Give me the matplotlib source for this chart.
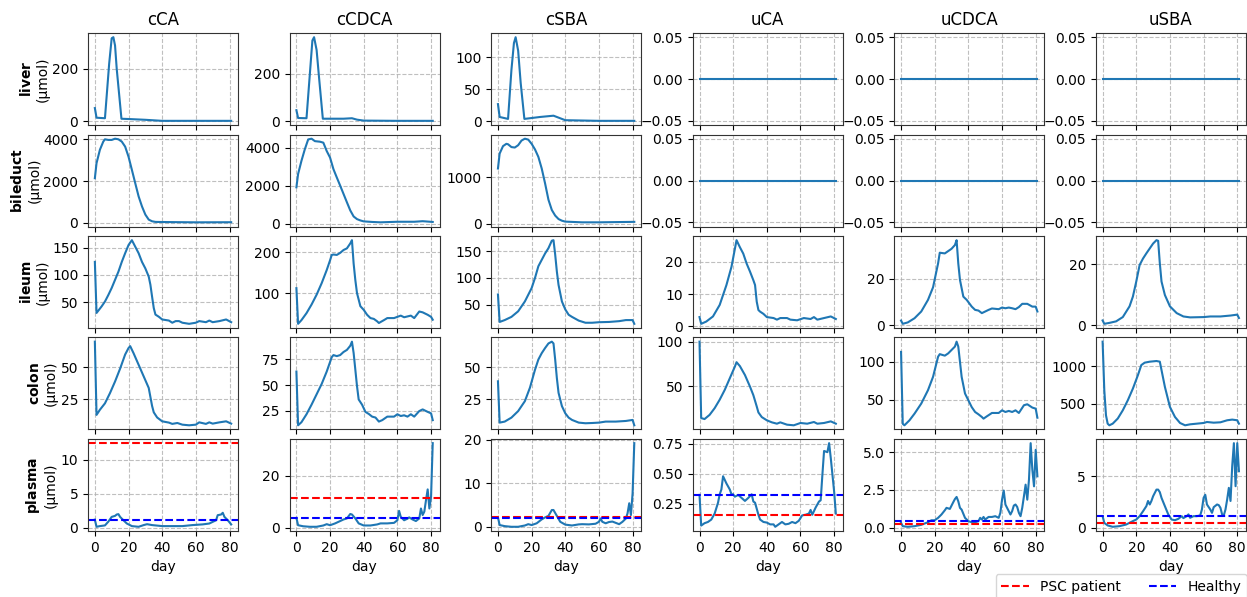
"""
Bile acid amounts per compartment over time, with plasma reference levels.
"""
import matplotlib
matplotlib.use('Agg')
from matplotlib import pyplot as plt
from matplotlib.lines import Line2D

compartments = ['liver', 'bileduct', 'ileum', 'colon', 'plasma']
acids = ['cCA', 'cCDCA', 'cSBA', 'uCA', 'uCDCA', 'uSBA']

# unconjugated acids are zero in liver and bile duct
zero_day = [0, 81]
zero_val = [0.0, 0.0]

# ---- liver
liver_cCA_day = [0, 1, 6, 8.5, 10, 11, 12, 13, 15.8, 20, 30, 40, 60, 81]
liver_cCA = [50, 13, 11, 220, 318, 322, 290, 200, 9, 8, 5, 1, 1, 1]
liver_cCDCA_day = [0, 1, 6, 8, 9.5, 10.5, 12, 13.5, 15.7, 20, 28, 33, 36, 40, 60, 81]
liver_cCDCA = [46, 13, 12, 200, 340, 354, 300, 180, 10, 10, 10, 12, 6, 2, 1, 1]
liver_cSBA_day = [0, 1, 6, 8, 9.5, 10.5, 12, 13.5, 15.7, 25, 33, 37, 40, 60, 81]
liver_cSBA = [27, 7, 4, 80, 122, 131, 110, 60, 4, 7, 9, 5, 2, 1, 1]

# ---- bile duct
bile_cCA_day = [0, 1, 3, 5, 6, 8, 10, 12, 14, 16, 18, 20, 22, 24, 26, 28, 30,
                32, 34, 36, 40, 60, 81]
bile_cCA = [2140, 2860, 3500, 3890, 4000, 3970, 3970, 4030, 4000, 3890, 3650,
            3170, 2540, 1900, 1270, 790, 400, 160, 80, 50, 45, 30, 35]
bile_cCDCA_day = [0, 1, 3, 5, 7, 9, 11, 14, 16, 18, 20, 22, 24, 26, 28, 30, 32,
                  34, 36, 38, 40, 45, 50, 60, 70, 75, 81]
bile_cCDCA = [1920, 2620, 3320, 3930, 4450, 4490, 4360, 4330, 4280, 3840, 3490,
              2880, 2440, 2010, 1570, 1130, 700, 380, 240, 170, 120, 90, 70,
              100, 100, 130, 90]
bile_cSBA_day = [0, 1, 3, 5, 6, 8, 10, 12, 14, 16, 18, 20, 22, 24, 26, 28, 30,
                 32, 34, 36, 38, 40, 50, 60, 70, 81]
bile_cSBA = [1190, 1510, 1670, 1720, 1710, 1650, 1640, 1690, 1790, 1830, 1810,
             1720, 1600, 1440, 1190, 870, 520, 300, 180, 105, 70, 50, 35, 35,
             40, 45]

# ---- ileum
ileum_cCA_day = [0, 1, 4, 6, 8, 10, 12, 14, 16, 18, 20, 22, 24, 26, 28, 30, 32,
                 33, 34, 35, 36, 38, 40, 44, 46, 48, 50, 52, 56, 60, 62, 66, 68,
                 70, 74, 78, 81]
ileum_cCA = [124, 30, 42, 51, 63, 76, 91, 106, 124, 140, 155, 164, 152, 140,
             124, 112, 97, 82, 60, 39, 27, 23, 18, 16, 12, 15, 15, 12, 10, 12,
             15, 13, 16, 13, 15, 18, 13]
ileum_cCDCA_day = [0, 1, 3, 6, 9, 12, 15, 18, 20, 21, 22, 24, 26, 28, 30, 32,
                   33, 34, 35, 36, 38, 40, 42, 44, 46, 48, 49, 52, 54, 58, 60,
                   62, 64, 66, 68, 70, 73, 75, 78, 80, 81]
ileum_cCDCA = [113, 26, 35, 52, 73, 97, 125, 157, 181, 194, 195, 194, 199, 206,
               210, 222, 230, 173, 133, 101, 69, 60, 48, 40, 38, 32, 28, 35, 40,
               40, 43, 46, 42, 44, 46, 40, 56, 54, 48, 43, 36]
ileum_cSBA_day = [0, 1, 4, 8, 12, 16, 20, 22, 24, 26, 28, 30, 32, 33, 34, 35,
                  36, 38, 40, 42, 44, 48, 52, 56, 60, 66, 72, 76, 80, 81]
ileum_cSBA = [69, 17.5, 21, 27, 37.5, 56, 81, 100, 122, 134, 146, 156, 170,
              171, 144, 112, 87, 56, 41, 31, 27, 20, 16, 16, 17, 17.5, 19, 21,
              21, 14]
ileum_uCA_day = [0, 1, 4, 8, 12, 16, 19, 22, 24, 26, 28, 30, 32, 33, 34, 35,
                 36, 38, 40, 44, 46, 48, 52, 54, 58, 62, 66, 68, 70, 74, 78, 81]
ileum_uCA = [2.8, 0.7, 1.4, 3, 6.6, 12.8, 18.5, 26.8, 24.6, 22.6, 19.5, 17,
             14.3, 12.8, 7.6, 5, 4.5, 3.8, 2.8, 2.5, 2, 2.5, 2.5, 2, 1.8, 2.5,
             2.2, 2.8, 2, 2.5, 3, 2.2]
ileum_uCDCA_day = [0, 1, 4, 8, 12, 16, 19, 22, 23, 26, 28, 30, 32, 33, 34, 35,
                   37, 39, 42, 44, 46, 48, 50, 52, 54, 58, 60, 62, 64, 66, 68,
                   70, 72, 75, 78, 80, 81]
ileum_uCDCA = [2.1, 0.7, 1.3, 3.1, 6, 11, 16.4, 26.7, 31.3, 31, 32, 33, 34.6,
               36.7, 26.7, 19.6, 12.4, 11, 8.1, 6.7, 6.4, 5.3, 6, 6.7, 7.3, 7,
               7.7, 7.4, 7.7, 7.4, 7, 7.9, 9.3, 9.3, 8.1, 8.1, 6]
ileum_uSBA_day = [0, 1, 4, 8, 12, 16, 18, 20, 22, 24, 26, 28, 30, 32, 33, 34,
                  35, 37, 40, 44, 48, 52, 60, 64, 70, 76, 80, 81]
ileum_uSBA = [1.6, 0.5, 0.8, 1.3, 2.7, 6.2, 9.4, 14.3, 19.7, 21.8, 23.5, 25.1,
              26.7, 27.8, 27.6, 20.2, 14.3, 9.9, 6.2, 4, 2.9, 2.6, 2.7, 2.9,
              2.9, 3.2, 3.5, 2.4]

# ---- colon
colon_cCA_day = [0, 1, 3, 6, 9, 12, 15, 18, 20, 21, 23, 26, 29, 32, 33, 34, 35,
                 37, 40, 44, 46, 49, 52, 56, 60, 62, 66, 68, 70, 74, 78, 81]
colon_cCA = [70, 13, 17, 22, 30, 39, 49, 60, 65, 66.5, 61, 52, 43, 34, 27, 20,
             15, 11, 8, 7, 6, 6.7, 5.4, 4.9, 5.4, 7.2, 6, 7.2, 6.2, 7.2, 8, 6.2]
colon_cCDCA_day = [0, 1, 3, 6, 9, 12, 15, 18, 21, 22, 24, 26, 28, 30, 32, 33,
                   34, 35, 36, 37, 39, 41, 43, 45, 47, 49, 51, 54, 58, 60, 62,
                   64, 66, 68, 70, 73, 75, 78, 80, 81]
colon_cCDCA = [63, 11, 14, 21.7, 31, 41, 51, 63, 77, 79, 78, 79, 82, 84, 88, 92,
               81, 65, 49, 36, 31, 24, 22, 19.4, 18.5, 14.6, 16, 19.4, 19.4,
               21.7, 20, 20.7, 19.4, 21.7, 19.4, 24.8, 26.4, 24, 22.6, 16]
colon_cSBA_day = [0, 1, 4, 8, 12, 16, 19, 22, 24, 26, 28, 30, 32, 33, 34, 35,
                  36, 38, 40, 42, 44, 48, 52, 56, 60, 64, 70, 76, 80, 81]
colon_cSBA = [39, 6.7, 7.5, 10.6, 15.7, 23.5, 34, 48, 56, 61, 65, 68.6, 70,
              68.6, 56, 41.5, 30, 19.6, 14, 10.6, 8.8, 6.7, 6.2, 6.4, 6.7, 7.5,
              7.5, 8, 8.8, 4.6]
colon_uCA_day = [0, 1, 3, 6, 9, 12, 15, 18, 21, 22, 24, 27, 30, 32, 34, 35, 37,
                 40, 43, 46, 48, 52, 56, 60, 64, 68, 70, 74, 78, 81]
colon_uCA = [100, 14.4, 13.3, 18, 25.5, 35, 46, 59, 72, 77, 72.6, 62.6, 49.6,
             40, 27.4, 20.7, 15.5, 11.9, 9.6, 8.1, 9.6, 7, 6.3, 8.9, 8.1, 10,
             8.1, 8.9, 10.7, 8.1]
colon_uCDCA_day = [0, 1, 2, 5, 8, 12, 16, 19, 22, 23, 26, 28, 30, 32, 33, 34,
                   35, 36, 38, 40, 42, 44, 46, 48, 49, 51, 54, 58, 60, 62, 64,
                   66, 68, 70, 73, 75, 78, 80, 81]
colon_uCDCA = [113, 18, 16, 22.6, 31.4, 44.7, 62.4, 80, 106.6, 110, 108, 111,
               115.5, 120, 126.5, 120, 100, 80, 58, 49, 40, 33.6, 30.5, 27,
               24.8, 27.9, 32.3, 32.3, 35.8, 33.6, 35, 33.6, 35.8, 32.3, 42.5,
               43.8, 39.4, 38, 26]
colon_uSBA_day = [0, 1, 2, 3, 4, 6, 9, 12, 15, 18, 21, 23, 25, 28, 32, 34, 35,
                  37, 40, 43, 46, 49, 52, 56, 60, 62, 66, 70, 74, 77, 80, 81]
colon_uSBA = [1325, 680, 344, 232, 210, 232, 300, 410, 545, 700, 880, 1013,
              1045, 1058, 1067, 1058, 946, 723, 455, 321, 241, 210, 223, 232,
              241, 254, 245, 250, 277, 286, 277, 232]

# ---- plasma
plasma_cCA_day = [0, 1, 3, 6, 8, 10, 12, 13, 14, 15, 17, 19, 22, 26, 29, 31,
                  34, 40, 46, 52, 58, 64, 68, 70, 72, 73, 75, 76, 77, 79, 81]
plasma_cCA = [1.2, 0.15, 0.25, 0.35, 0.9, 1.6, 1.75, 1.95, 2.0, 1.6, 1.1, 0.63,
              0.25, 0.15, 0.4, 0.53, 0.4, 0.25, 0.25, 0.25, 0.4, 0.5, 0.63,
              0.87, 1.1, 1.85, 1.95, 2.2, 1.6, 1.1, 0.5]
plasma_cCDCA_day = [0, 1, 4, 8, 12, 16, 18, 20, 23, 26, 28, 30, 32, 33, 35, 37,
                    40, 44, 48, 50, 54, 58, 60, 61, 62, 64, 66, 67, 69, 71, 73,
                    74, 75, 76, 77, 78, 79, 80, 81]
plasma_cCDCA = [3.8, 1.0, 0.6, 0.4, 0.4, 0.9, 1.4, 1.0, 1.7, 2.6, 3.2, 3.6, 5.3,
                5.1, 3.6, 1.7, 0.9, 0.9, 1.3, 1.7, 1.7, 1.9, 2.9, 6.5, 4.2, 2.9,
                3.5, 4.0, 3.2, 2.6, 3.6, 7.4, 4.9, 6.2, 10.6, 14.7, 7.4, 11.9,
                32.4]
plasma_cSBA_day = [0, 1, 4, 8, 12, 16, 18, 20, 23, 26, 28, 30, 32, 33, 35, 37,
                   40, 44, 48, 50, 54, 58, 60, 61, 62, 64, 66, 68, 70, 72, 74,
                   76, 77, 78, 79, 80, 81]
plasma_cSBA = [2.15, 0.4, 0.15, 0.0, 0.0, 0.3, 0.6, 0.4, 0.8, 1.7, 2.15, 2.5,
               3.85, 3.85, 2.5, 1.15, 0.5, 0.3, 0.55, 0.6, 0.55, 0.7, 1.15, 1.9,
               1.15, 0.8, 1.1, 1.2, 0.9, 0.6, 1.15, 1.9, 3.1, 5.4, 2.7, 7.7,
               19.2]
plasma_uCA_day = [0, 1, 3, 5, 7, 9, 11, 12, 13, 14, 16, 18, 19, 20, 21, 23, 25,
                  27, 29, 31, 32, 33, 34, 35, 36, 38, 40, 42, 44, 45, 47, 49,
                  51, 53, 55, 57, 59, 61, 63, 65, 66, 67, 69, 71, 72, 73, 74,
                  76, 77, 78, 80, 81]
plasma_uCA = [0.325, 0.07, 0.09, 0.10, 0.12, 0.17, 0.26, 0.33, 0.37, 0.48, 0.42,
              0.37, 0.33, 0.33, 0.31, 0.325, 0.30, 0.275, 0.30, 0.33, 0.27,
              0.26, 0.21, 0.16, 0.12, 0.10, 0.095, 0.08, 0.08, 0.06, 0.08, 0.10,
              0.08, 0.085, 0.10, 0.09, 0.11, 0.155, 0.16, 0.17, 0.20, 0.16,
              0.22, 0.27, 0.28, 0.49, 0.69, 0.68, 0.755, 0.63, 0.35, 0.17]
plasma_uCDCA_day = [0, 1, 4, 8, 12, 16, 18, 20, 22, 24, 26, 27, 29, 30, 31, 32,
                    33, 34, 35, 36, 38, 40, 42, 44, 46, 47, 48, 49, 50, 52, 54,
                    56, 58, 59, 60, 61, 62, 64, 65, 66, 67, 68, 69, 70, 71, 72,
                    73, 74, 75, 76, 77, 78, 79, 80, 81]
plasma_uCDCA = [0.33, 0.11, 0.07, 0.11, 0.2, 0.37, 0.5, 0.5, 0.66, 0.88, 1.16,
                1.32, 1.25, 1.47, 1.69, 1.9, 2.04, 1.75, 1.32, 1.2, 0.66, 0.44,
                0.37, 0.37, 0.44, 0.66, 0.55, 0.72, 0.55, 0.72, 0.72, 0.77,
                0.66, 0.99, 1.86, 2.46, 1.54, 1.1, 0.88, 1.1, 1.47, 1.54, 1.38,
                0.99, 0.77, 1.32, 2.08, 2.85, 1.86, 3.18, 5.59, 3.84, 2.74,
                5.15, 3.4]
plasma_uSBA_day = [0, 1, 3, 6, 10, 14, 18, 20, 22, 24, 26, 27, 28, 29, 30, 32,
                   33, 34, 35, 37, 39, 41, 43, 45, 47, 48, 50, 51, 52, 54, 56,
                   58, 59, 60, 61, 62, 64, 65, 66, 68, 69, 70, 71, 72, 73, 74,
                   75, 76, 77, 78, 79, 80, 81]
plasma_uSBA = [1.13, 0.48, 0.23, 0.1, 0.16, 0.32, 0.65, 0.8, 1.13, 1.6, 2.1,
               2.6, 2.26, 2.6, 3.06, 3.7, 3.7, 3.45, 2.9, 2.1, 1.3, 0.8, 0.74,
               0.87, 1.13, 0.94, 1.13, 1.3, 0.97, 1.13, 1.13, 1.2, 1.77, 2.9,
               3.2, 2.26, 1.77, 1.45, 2.0, 2.26, 2.2, 1.94, 1.3, 1.2, 1.77, 2.74,
               3.87, 2.6, 5.97, 8.2, 4.03, 8.2, 5.48]

# plasma reference levels (cCA, cCDCA, cSBA, uCA, uCDCA, uSBA)
psc_level = [12.4, 11.5, 2.3, 0.16, 0.285, 0.42]
healthy_level = [1.1, 3.7, 2.1, 0.325, 0.42, 1.13]

series = {
    'liver': [(liver_cCA_day, liver_cCA), (liver_cCDCA_day, liver_cCDCA),
              (liver_cSBA_day, liver_cSBA), (zero_day, zero_val),
              (zero_day, zero_val), (zero_day, zero_val)],
    'bileduct': [(bile_cCA_day, bile_cCA), (bile_cCDCA_day, bile_cCDCA),
                 (bile_cSBA_day, bile_cSBA), (zero_day, zero_val),
                 (zero_day, zero_val), (zero_day, zero_val)],
    'ileum': [(ileum_cCA_day, ileum_cCA), (ileum_cCDCA_day, ileum_cCDCA),
              (ileum_cSBA_day, ileum_cSBA), (ileum_uCA_day, ileum_uCA),
              (ileum_uCDCA_day, ileum_uCDCA), (ileum_uSBA_day, ileum_uSBA)],
    'colon': [(colon_cCA_day, colon_cCA), (colon_cCDCA_day, colon_cCDCA),
              (colon_cSBA_day, colon_cSBA), (colon_uCA_day, colon_uCA),
              (colon_uCDCA_day, colon_uCDCA), (colon_uSBA_day, colon_uSBA)],
    'plasma': [(plasma_cCA_day, plasma_cCA), (plasma_cCDCA_day, plasma_cCDCA),
               (plasma_cSBA_day, plasma_cSBA), (plasma_uCA_day, plasma_uCA),
               (plasma_uCDCA_day, plasma_uCDCA),
               (plasma_uSBA_day, plasma_uSBA)],
}

# ylabel sits just left of each row's own tick labels
label_x = {'liver': -0.255, 'bileduct': -0.31, 'ileum': -0.255,
           'colon': -0.2, 'plasma': -0.2}

fig, axes = plt.subplots(5, 6, figsize=(12.47, 5.97), dpi=100, sharex=True)
fig.subplots_adjust(left=0.0706, right=0.999, top=0.9447, bottom=0.1106,
                    wspace=0.344, hspace=0.103)

for i, comp in enumerate(compartments):
    for j, acid in enumerate(acids):
        ax = axes[i, j]
        x, y = series[comp][j]
        ax.plot(x, y, color='tab:blue', lw=1.5)
        if comp == 'plasma':
            ax.axhline(psc_level[j], color='red', ls='--', lw=1.5)
            ax.axhline(healthy_level[j], color='blue', ls='--', lw=1.5)
            ax.set_xlabel('day')
        if i == 0:
            ax.set_title(acid, fontsize=12)
        if j == 0:
            ax.set_ylabel(r'$\bf{' + comp + '}$' + '\n(μmol)')
            ax.yaxis.set_label_coords(label_x[comp], 0.5)
        ax.grid(True, ls='--', color='#b0b0b0', lw=0.8, alpha=0.8)
        ax.set_xticks([0, 20, 40, 60, 80])
        for s in ax.spines.values():
            s.set_edgecolor('#333333')

handles = [Line2D([], [], color='red', ls='--', lw=1.5),
           Line2D([], [], color='blue', ls='--', lw=1.5)]
# legend sits in the bottom-right corner and runs slightly off the canvas
fig.legend(handles, ['PSC patient', 'Healthy'], loc='upper right',
           bbox_to_anchor=(1.0, 1 - 574 / 597), borderaxespad=0, ncol=2)

fig.savefig('out.png', dpi=100)
